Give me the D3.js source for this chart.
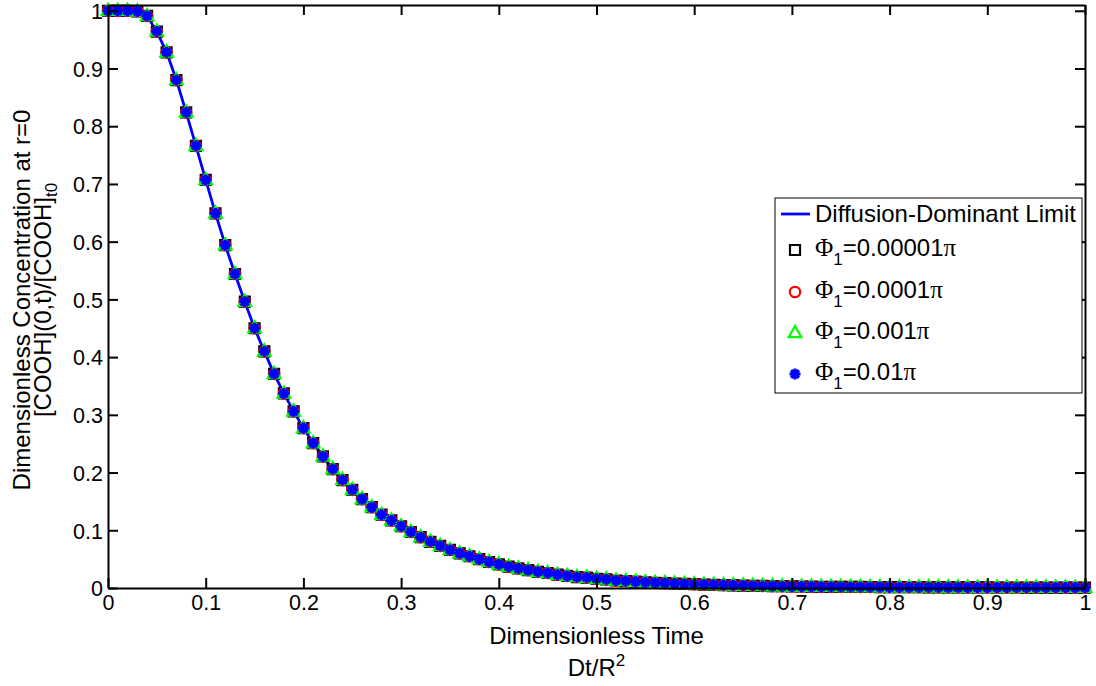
<!DOCTYPE html>
<html lang="en">
<head>
<meta charset="UTF-8">
<title>Dimensionless concentration at r=0</title>
<script src="https://d3js.org/d3.v7.min.js"></script>
<style>
  body { margin: 0; background: #fff; }
  svg { display: block; font-family: "Liberation Sans", Arial, sans-serif; }
</style>
</head>
<body>
<svg width="1096" height="686"></svg>
<script>
  // dimensionless time Dt/R^2
  const time = [
    0, 0.01, 0.02, 0.03, 0.04, 0.05, 0.06, 0.07, 0.08, 0.09,
    0.10, 0.11, 0.12, 0.13, 0.14, 0.15, 0.16, 0.17, 0.18, 0.19,
    0.20, 0.21, 0.22, 0.23, 0.24, 0.25, 0.26, 0.27, 0.28, 0.29,
    0.30, 0.31, 0.32, 0.33, 0.34, 0.35, 0.36, 0.37, 0.38, 0.39,
    0.40, 0.41, 0.42, 0.43, 0.44, 0.45, 0.46, 0.47, 0.48, 0.49,
    0.50, 0.51, 0.52, 0.53, 0.54, 0.55, 0.56, 0.57, 0.58, 0.59,
    0.60, 0.61, 0.62, 0.63, 0.64, 0.65, 0.66, 0.67, 0.68, 0.69,
    0.70, 0.71, 0.72, 0.73, 0.74, 0.75, 0.76, 0.77, 0.78, 0.79,
    0.80, 0.81, 0.82, 0.83, 0.84, 0.85, 0.86, 0.87, 0.88, 0.89,
    0.90, 0.91, 0.92, 0.93, 0.94, 0.95, 0.96, 0.97, 0.98, 0.99,
    1.00
  ];

  // concentration at the centre (all series overlap)
  const concentration = [
    1.000, 1.000, 1.000, 0.999, 0.991, 0.964, 0.928, 0.880, 0.824, 0.766,
    0.707, 0.649, 0.594, 0.544, 0.496, 0.450, 0.410, 0.371, 0.337, 0.306,
    0.277, 0.251, 0.228, 0.206, 0.187, 0.170, 0.154, 0.140, 0.127, 0.117,
    0.107, 0.097, 0.088, 0.080, 0.073, 0.066, 0.060, 0.055, 0.050, 0.045,
    0.041, 0.037, 0.034, 0.031, 0.028, 0.026, 0.023, 0.021, 0.019, 0.018,
    0.016, 0.015, 0.013, 0.012, 0.011, 0.010, 0.009, 0.0085, 0.0078, 0.0071,
    0.0065, 0.0060, 0.0055, 0.0050, 0.0046, 0.0042, 0.0039, 0.0036, 0.0033, 0.0030,
    0.0028, 0.0026, 0.0024, 0.0022, 0.0021, 0.0020, 0.0019, 0.0018, 0.0017, 0.0016,
    0.0015, 0.0014, 0.0013, 0.0013, 0.0012, 0.0012, 0.0011, 0.0011, 0.0010, 0.0010,
    0.0010, 0.0009, 0.0009, 0.0009, 0.0008, 0.0008, 0.0008, 0.0008, 0.0007, 0.0007,
    0.0007
  ];

  const lineLabel = "Diffusion-Dominant Limit";
  const phiValues = ["0.00001", "0.0001", "0.001", "0.01"];
  const markerTypes = ["square", "circle", "triangle", "star"];
  const markerColors = ["#000000", "#ff0000", "#00ff00", "#0000ff"];

  const xTicks = [0, 0.1, 0.2, 0.3, 0.4, 0.5, 0.6, 0.7, 0.8, 0.9, 1];
  const xTickLabels = ["0", "0.1", "0.2", "0.3", "0.4", "0.5", "0.6", "0.7", "0.8", "0.9", "1"];
  const yTicks = [0, 0.1, 0.2, 0.3, 0.4, 0.5, 0.6, 0.7, 0.8, 0.9, 1];
  const yTickLabels = ["0", "0.1", "0.2", "0.3", "0.4", "0.5", "0.6", "0.7", "0.8", "0.9", "1"];

  const points = time.map((t, i) => ({ t: t, c: concentration[i] }));

  const svg = d3.select("svg");
  const plotLeft = 108, plotRight = 1085, plotTop = 5, plotBottom = 588;

  const x = d3.scaleLinear().domain([0, 1]).range([plotLeft, plotRight]);
  const y = d3.scaleLinear().domain([0, 1.01]).range([plotBottom, plotTop]);

  // the limit curve
  svg.append("path")
    .datum(points)
    .attr("fill", "none")
    .attr("stroke", "#0000ff")
    .attr("stroke-width", 2.8)
    .attr("d", d3.line().x(d => x(d.t)).y(d => y(d.c)));

  // marker shapes
  function markerPath(type) {
    if (type === "square") return "M-5,-5H5V5H-5Z";
    if (type === "circle") return d3.symbol(d3.symbolCircle, Math.PI * 5.2 * 5.2)();
    if (type === "triangle") return "M0,-7L6.3,4.2L-6.3,4.2Z";
    return "M-5.5,0H5.5M0,-5.5V5.5M-3.9,-3.9L3.9,3.9M-3.9,3.9L3.9,-3.9";
  }

  markerTypes.forEach((type, k) => {
    svg.append("g")
      .selectAll("path")
      .data(points)
      .join("path")
      .attr("transform", d => `translate(${x(d.t)},${y(d.c)})`)
      .attr("d", markerPath(type))
      .attr("fill", "none")
      .attr("stroke", markerColors[k])
      .attr("stroke-width", type === "star" ? 3.2 : 2.2);
  });

  // axes box with inward ticks
  const fmtX = d => xTickLabels[xTicks.indexOf(d)];
  const fmtY = d => yTickLabels[yTicks.indexOf(d)];

  const axisBottom = svg.append("g")
    .attr("transform", `translate(0,${plotBottom})`)
    .call(d3.axisBottom(x).tickValues(xTicks).tickFormat(fmtX).tickSizeInner(-10).tickSizeOuter(0).tickPadding(7));
  const axisTop = svg.append("g")
    .attr("transform", `translate(0,${plotTop})`)
    .call(d3.axisTop(x).tickValues(xTicks).tickFormat("").tickSizeInner(-10).tickSizeOuter(0));
  const axisLeft = svg.append("g")
    .attr("transform", `translate(${plotLeft},0)`)
    .call(d3.axisLeft(y).tickValues(yTicks).tickFormat(fmtY).tickSizeInner(-10).tickSizeOuter(0).tickPadding(5));
  const axisRight = svg.append("g")
    .attr("transform", `translate(${plotRight},0)`)
    .call(d3.axisRight(y).tickValues(yTicks).tickFormat("").tickSizeInner(-10).tickSizeOuter(0));

  [axisBottom, axisTop, axisLeft, axisRight].forEach(a => {
    a.selectAll("path, line").attr("stroke", "#000").attr("stroke-width", 2);
    a.selectAll("text")
      .attr("fill", "#000")
      .style("font-size", "21.5px")
      .style("font-family", "'Liberation Sans', Arial, sans-serif");
  });
  axisLeft.selectAll("text").attr("dy", "0.36em");

  // axis labels
  svg.append("text")
    .attr("x", (plotLeft + plotRight) / 2).attr("y", 644)
    .attr("text-anchor", "middle")
    .style("font-size", "24px")
    .text("Dimensionless Time");

  const xl2 = svg.append("text")
    .attr("x", (plotLeft + plotRight) / 2).attr("y", 676)
    .attr("text-anchor", "middle")
    .style("font-size", "24px");
  xl2.append("tspan").text("Dt/R");
  xl2.append("tspan").attr("dy", -10).style("font-size", "17px").text("2");

  const yl = svg.append("g").attr("transform", "translate(0,300) rotate(-90)");
  yl.append("text")
    .attr("x", 0).attr("y", 30)
    .attr("text-anchor", "middle")
    .style("font-size", "24px")
    .text("Dimensionless Concentration at r=0");
  const yl2 = yl.append("text")
    .attr("x", 0).attr("y", 51)
    .attr("text-anchor", "middle")
    .style("font-size", "24px");
  yl2.append("tspan").text("[COOH](0,t)/[COOH]");
  yl2.append("tspan").attr("dy", 6).style("font-size", "17px").text("t0");

  // legend
  const legend = svg.append("g");
  legend.append("rect")
    .attr("x", 775).attr("y", 198)
    .attr("width", 307).attr("height", 195)
    .attr("fill", "#fff")
    .attr("stroke", "#000")
    .attr("stroke-width", 1);

  legend.append("line")
    .attr("x1", 781).attr("x2", 810)
    .attr("y1", 214).attr("y2", 214)
    .attr("stroke", "#0000ff")
    .attr("stroke-width", 2.8);
  legend.append("text")
    .attr("x", 815).attr("y", 222)
    .style("font-size", "24px")
    .text(lineLabel);

  const rowY = [250, 292, 333, 374];
  markerTypes.forEach((type, k) => {
    legend.append("path")
      .attr("transform", `translate(795,${rowY[k]})`)
      .attr("d", markerPath(type))
      .attr("fill", "none")
      .attr("stroke", markerColors[k])
      .attr("stroke-width", type === "star" ? 3.2 : 2.2);
    const t = legend.append("text")
      .attr("x", 815).attr("y", rowY[k] + 6)
      .style("font-size", "24px");
    t.append("tspan").style("font-family", "'Liberation Serif', serif").style("font-size", "25px").text("Φ");
    t.append("tspan").attr("dy", 9).style("font-size", "17px").text("1");
    t.append("tspan").attr("dy", -9).text("=" + phiValues[k]);
    t.append("tspan").style("font-family", "'Liberation Serif', serif").style("font-size", "25px").text("π");
  });
</script>
</body>
</html>
